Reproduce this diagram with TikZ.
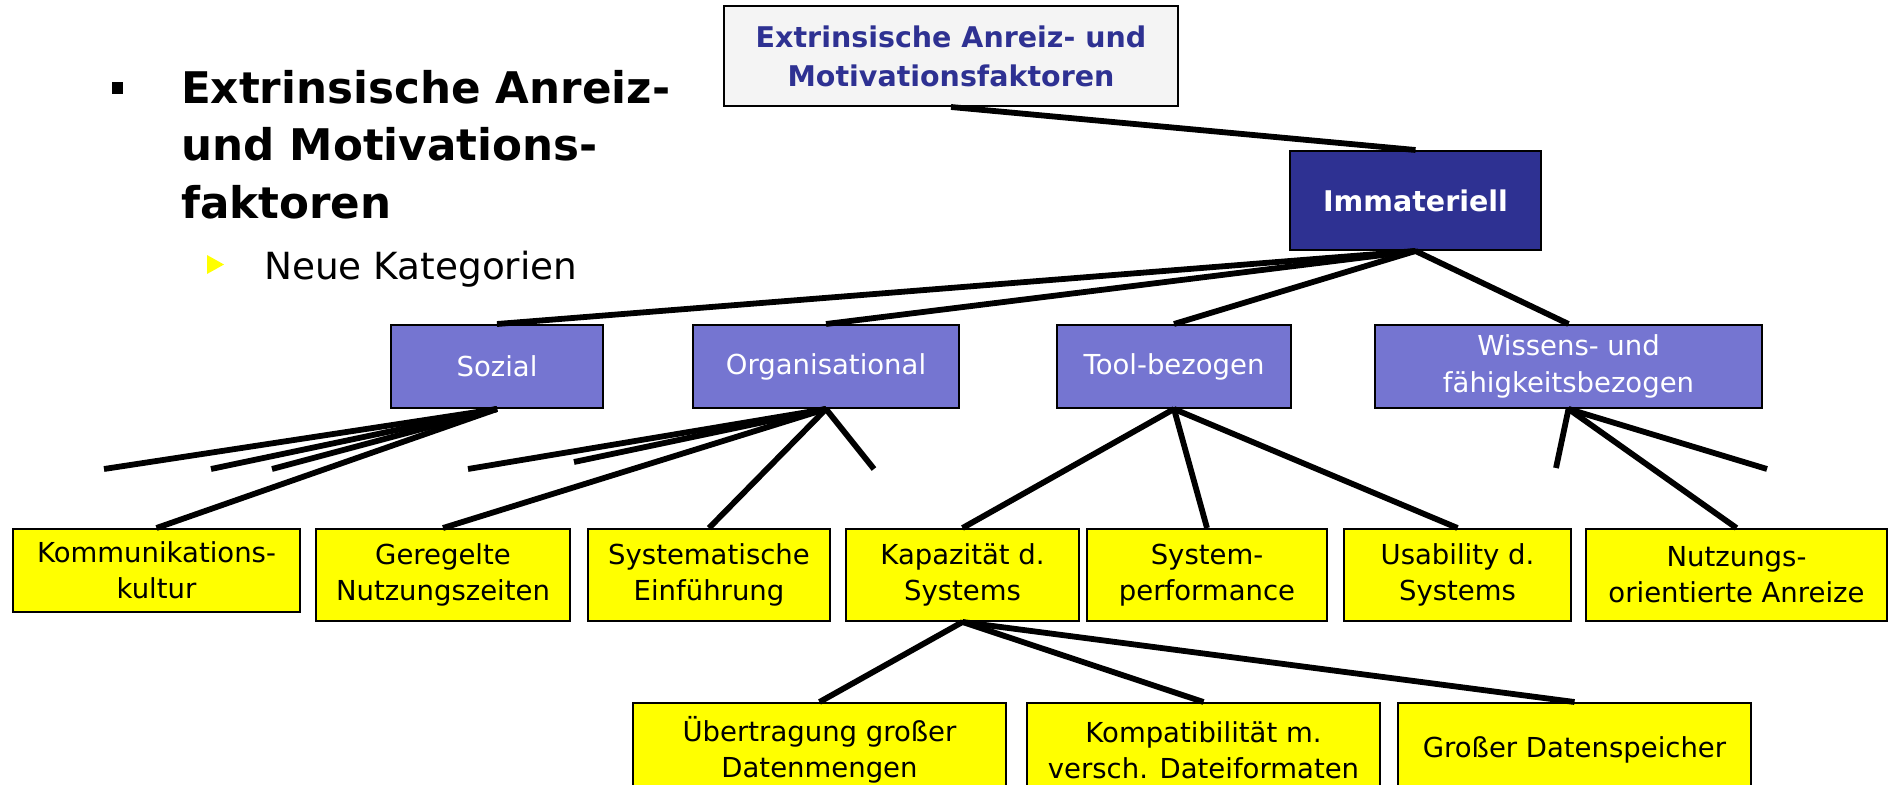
\documentclass[tikz,border=0pt]{standalone}
\usepackage{fontspec}
\setmainfont{DejaVu Sans}
\definecolor{navy}{HTML}{2E3192}
\definecolor{lavender}{HTML}{7575D1}
\definecolor{paper}{HTML}{F4F4F4}
\definecolor{leafyellow}{HTML}{FFFF00}

\begin{document}
\begin{tikzpicture}[x=1pt,y=-1pt,
  box/.style={draw=black, line width=2pt, inner sep=0pt, align=center},
  topbox/.style={box, fill=paper, text=navy, minimum width=454, minimum height=100,
    font=\fontsize{28.5}{39}\selectfont\bfseries},
  immbox/.style={box, fill=navy, text=white, minimum width=251, minimum height=99,
    font=\fontsize{28.5}{34}\selectfont\bfseries},
  catbox/.style={box, fill=lavender, text=white, minimum height=83,
    font=\fontsize{27.5}{37}\selectfont},
  leafbox/.style={box, fill=leafyellow, text=black, minimum height=92,
    font=\fontsize{27.5}{36}\selectfont},
  link/.style={line width=5.8pt}
]
\useasboundingbox (0,0) rectangle (1894,784);

% heading on the left
\fill[black] (112,82) rectangle (123,94);
\node[anchor=north west, inner sep=0pt, align=left,
      font=\fontsize{43.6}{57.5}\selectfont\bfseries] (head) at (181,70)
  {Extrinsische Anreiz-\\und Motivations-\\faktoren};
\fill[leafyellow] (207,255) -- (207,274) -- (224,264.5) -- cycle;
\node[anchor=base west, inner sep=0pt, font=\fontsize{37.4}{43}\selectfont] (sub) at (264,279)
  {Neue Kategorien};

% hierarchy
\node[topbox] (top) at (951,56) {Extrinsische Anreiz- und\\Motivationsfaktoren};
\node[immbox] (imm) at (1415.5,200.5) {Immateriell};

\node[catbox, minimum width=212] (soz)  at (497,366.5)   {Sozial};
\node[catbox, minimum width=266] (org)  at (826,366.5)   {Organisational};
\node[catbox, minimum width=234] (tool) at (1174,366.5)  {Tool-bezogen};
\node[catbox, minimum width=387] (wiss) at (1568.5,366.5){Wissens- und\\fähigkeitsbezogen};

\node[leafbox, minimum width=287, minimum height=83] (komm) at (156.5,570.5) {Kommunikations-\\kultur};
\node[leafbox, minimum width=254] (ger)  at (443,575)    {Geregelte\\Nutzungszeiten};
\node[leafbox, minimum width=242] (sys)  at (709,575)    {Systematische\\Einführung};
\node[leafbox, minimum width=233] (kap)  at (962.5,575)  {Kapazität d.\\Systems};
\node[leafbox, minimum width=240] (perf) at (1207,575)   {System-\\performance};
\node[leafbox, minimum width=227] (usa)  at (1457.5,575) {Usability d.\\Systems};
\node[leafbox, minimum width=301] (nutz) at (1736.5,575) {Nutzungs-\\orientierte Anreize};

\node[leafbox, minimum width=373, minimum height=94] (ueb)   at (819.5,750)  {Übertragung großer\\Datenmengen};
\node[leafbox, minimum width=353, minimum height=94] (komp)  at (1203.5,750) {Kompatibilität m.\\versch. Dateiformaten};
\node[leafbox, minimum width=353, minimum height=94] (gross) at (1574.5,750) {Großer Datenspeicher};

% loose ends of branches without a box
\coordinate (s1) at (104,469);
\coordinate (s2) at (211,469);
\coordinate (s3) at (272,469);
\coordinate (o1) at (468,469);
\coordinate (o2) at (574,462);
\coordinate (o3) at (874,469);
\coordinate (w1) at (1556,468);
\coordinate (w2) at (1767,469);

% connectors
\draw[link] (top.south) -- (imm.north);
\foreach \c in {soz,org,tool,wiss} \draw[link] (imm.south) -- (\c.north);
\foreach \c in {s1,s2,s3} \draw[link] (soz.south) -- (\c);
\draw[link] (soz.south) -- (komm.north);
\foreach \c in {o1,o2,o3} \draw[link] (org.south) -- (\c);
\draw[link] (org.south) -- (ger.north);
\draw[link] (org.south) -- (sys.north);
\foreach \c in {kap,perf,usa} \draw[link] (tool.south) -- (\c.north);
\foreach \c in {w1,w2} \draw[link] (wiss.south) -- (\c);
\draw[link] (wiss.south) -- (nutz.north);
\foreach \c in {ueb,komp,gross} \draw[link] (kap.south) -- (\c.north);
\end{tikzpicture}
\end{document}
